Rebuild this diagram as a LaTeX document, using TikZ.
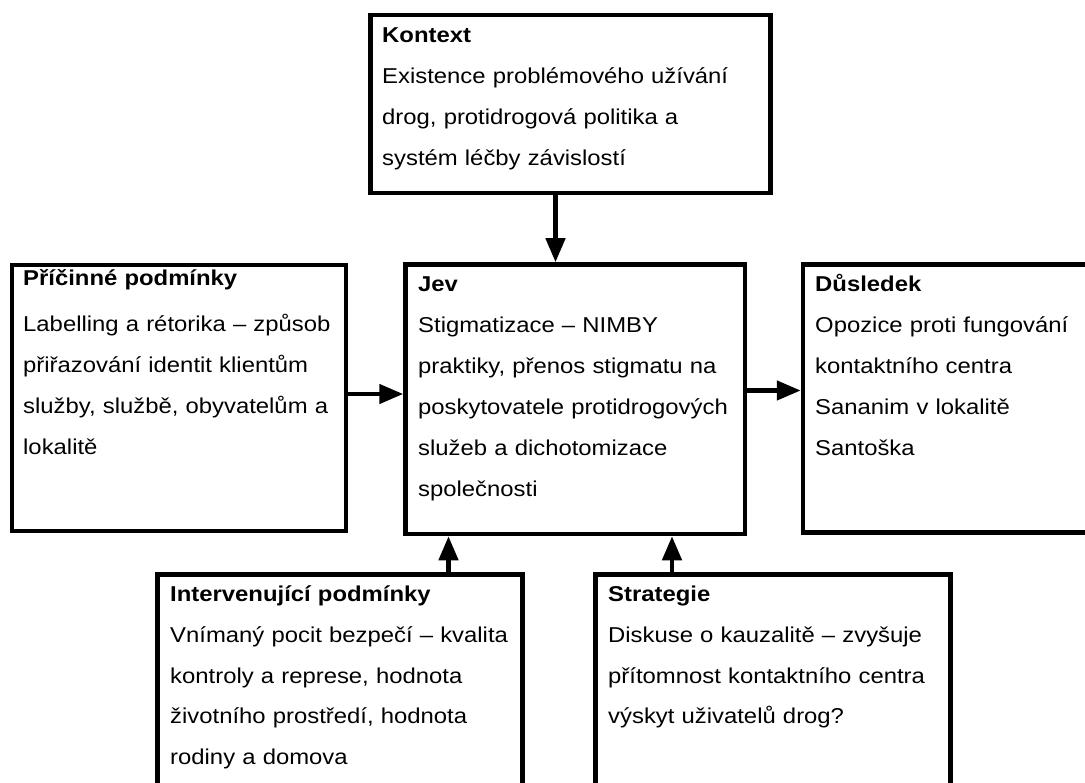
\documentclass[tikz,border=0pt]{standalone}
\usepackage{fontspec}
\setmainfont{Liberation Sans}[FakeStretch=1.11]
\usetikzlibrary{arrows.meta}
\tikzset{
  box/.style={draw=black, line width=4.5pt, rectangle, inner sep=0pt, fill=white},
  txt/.style={anchor=base west, inner sep=0pt, align=left, text width=420pt,
    font=\fontsize{21.5}{41}\selectfont},
  arr/.style={draw=black, line width=4.5pt, -{Triangle[length=24pt,width=19pt]}}
}
\begin{document}
\begin{tikzpicture}[x=1pt,y=-1pt]
\useasboundingbox (0,0) rectangle (1085,783);
\clip (0,0) rectangle (1085,783);
\fill[white] (0,0) rectangle (1085,783);
% boxes
\node[box, minimum width=400pt, minimum height=178pt] (k) at (570.5,104) {};
\node[box, minimum width=334pt, minimum height=266pt] (p) at (179,398) {};
\node[box, minimum width=339.5pt, minimum height=269.5pt] (j) at (575.25,399.25) {};
\node[box, minimum width=292pt, minimum height=268pt] (d) at (949,398.5) {};
\node[box, minimum width=365pt, minimum height=225.5pt] (i) at (340,687.25) {};
\node[box, minimum width=355pt, minimum height=225.5pt] (s) at (773,687.25) {};
% texts
\node[txt] (kt) at (382,43) {\textbf{Kontext}\\Existence problémového užívání\\drog, protidrogová politika a\\systém léčby závislostí};
\node[txt] (pt) at (23,286) {\textbf{Příčinné podmínky}\\[5pt]Labelling a rétorika – způsob\\přiřazování identit klientům\\služby, službě, obyvatelům a\\lokalitě};
\node[txt] (jt) at (418,292) {\textbf{Jev}\\Stigmatizace – NIMBY\\praktiky, přenos stigmatu na\\poskytovatele protidrogových\\služeb a dichotomizace\\společnosti};
\node[txt] (dt) at (815,292) {\textbf{Důsledek}\\Opozice proti fungování\\kontaktního centra\\Sananim v lokalitě\\Santoška};
\node[txt] (it) at (170,601) {\textbf{Intervenující podmínky}\\Vnímaný pocit bezpečí – kvalita\\kontroly a represe, hodnota\\životního prostředí, hodnota\\rodiny a domova};
\node[txt] (st) at (608,601) {\textbf{Strategie}\\Diskuse o kauzalitě – zvyšuje\\přítomnost kontaktního centra\\výskyt uživatelů drog?};
% connector positions
\coordinate (ka) at (555.5,0);
\coordinate (pa) at (0,394);
\coordinate (da) at (0,390.5);
\coordinate (ia) at (448.5,0);
\coordinate (sa) at (672,0);
% connectors
\draw[arr] (k.south -| ka) -- (j.north -| ka);
\draw[arr] (p.east |- pa) -- (j.west |- pa);
\draw[arr] (j.east |- da) -- (d.west |- da);
\draw[arr] (i.north -| ia) -- (j.south -| ia);
\draw[arr] (s.north -| sa) -- (j.south -| sa);
\end{tikzpicture}
\end{document}
